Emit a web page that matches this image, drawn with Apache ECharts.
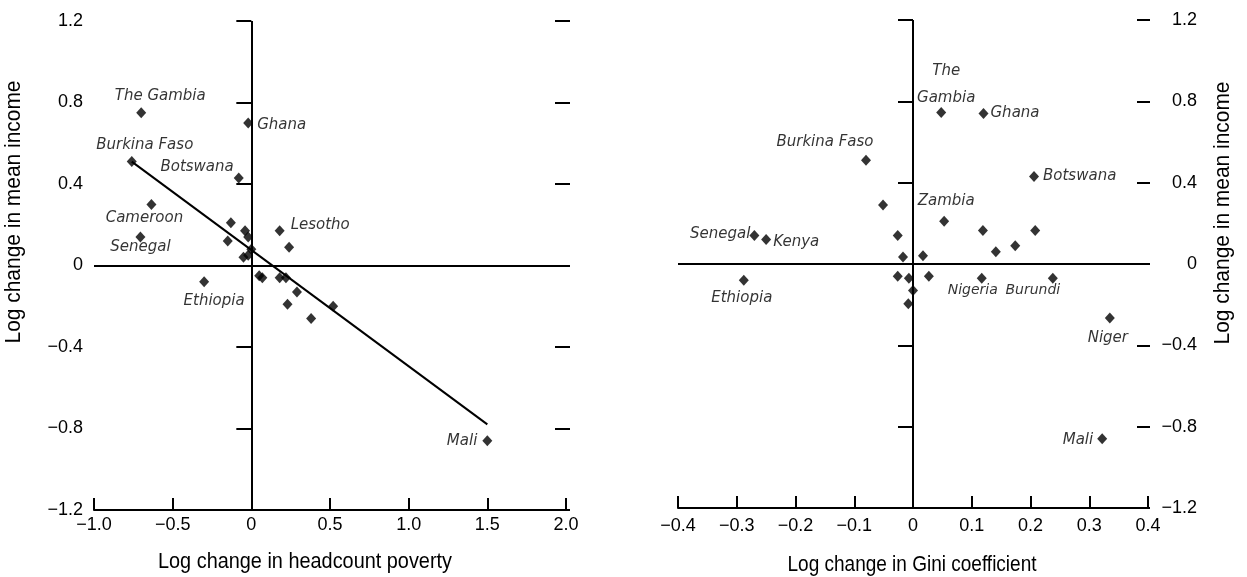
<!DOCTYPE html>
<html><head><meta charset="utf-8">
<script src="https://cdn.jsdelivr.net/npm/echarts@6/dist/echarts.min.js"></script>
<style>html,body{margin:0;padding:0;background:#fff}#c{width:1247px;height:577px}</style>
</head><body><div id="c"></div>
<script>
// ---------- data ----------
const leftNames = ['The Gambia','Burkina Faso','Botswana','Ghana','Cameroon','Senegal','Ethiopia','Lesotho','Mali',
  '','','','','','','','','','','','','','','',''];
const leftX = [-0.70,-0.76,-0.08,-0.02,-0.635,-0.705,-0.30,0.18,1.50,
  0.24,-0.13,-0.15,-0.04,-0.02,-0.05,-0.02,0.00,0.07,0.05,0.18,0.22,0.29,0.23,0.38,0.52];
const leftY = [0.75,0.51,0.43,0.70,0.30,0.14,-0.08,0.17,-0.86,
  0.09,0.21,0.12,0.17,0.14,0.04,0.05,0.08,-0.06,-0.05,-0.06,-0.06,-0.13,-0.19,-0.26,-0.20];
const fitX = [-0.76, 1.50];
const fitY = [0.51, -0.78];

const rightNames = ['The\nGambia','Ghana','Botswana','Burkina Faso','Senegal','Kenya','Ethiopia','Zambia','Nigeria','Burundi','Niger','Mali',
  '','','','','','','','','','','',''];
const rightX = [0.048,0.12,0.206,-0.08,-0.27,-0.25,-0.288,0.053,0.117,0.238,0.335,0.322,
  -0.051,-0.026,-0.017,0.017,-0.026,-0.007,0.027,0.0,-0.008,0.119,0.141,0.174,0.208];
const rightY = [0.745,0.74,0.43,0.51,0.14,0.12,-0.08,0.21,-0.07,-0.07,-0.265,-0.86,
  0.29,0.14,0.035,0.04,-0.06,-0.07,-0.06,-0.13,-0.195,0.165,0.06,0.09,0.165];

const xTicksLeft = ['\u22121.0','\u22120.5','0','0.5','1.0','1.5','2.0'];
const xTicksRight = ['\u22120.4','\u22120.3','\u22120.2','\u22120.1','0','0.1','0.2','0.3','0.4'];
const yTicks = ['\u22121.2','\u22120.8','\u22120.4','0','0.4','0.8','1.2'];

const xTitleLeft = 'Log change in headcount poverty';
const xTitleRight = 'Log change in Gini coefficient';
const yTitle = 'Log change in mean income';

// ---------- label placement (style, not data) ----------
const labelPos = {
  'The Gambia': {offset:[19,-17], align:'center'},
  'Burkina Faso': {offset:[13,-16], align:'center'},
  'Botswana': {offset:[-5,-11], align:'right'},
  'Ghana': {offset:[9,2], align:'left'},
  'Cameroon': {offset:[-7,14], align:'center'},
  'Senegal': {offset:[0,10], align:'center'},
  'Ethiopia': {offset:[10,19], align:'center'},
  'Lesotho': {offset:[11,-6], align:'left'},
  'Mali': {offset:[-10,0], align:'right'}
};
const labelPosR = {
  'The\nGambia': {offset:[5,-28], align:'center'},
  'Ghana': {offset:[7,0], align:'left'},
  'Botswana': {offset:[9,0], align:'left'},
  'Burkina Faso': {offset:[-41,-18], align:'center'},
  'Senegal': {offset:[-4,-1], align:'right'},
  'Kenya': {offset:[7,3], align:'left'},
  'Ethiopia': {offset:[-2,18], align:'center'},
  'Zambia': {offset:[2,-20], align:'center'},
  'Nigeria': {offset:[-9,12], align:'center', size:14},
  'Burundi': {offset:[-20,12], align:'center', size:14},
  'Niger': {offset:[-2,20], align:'center'},
  'Mali': {offset:[-9,1], align:'right'}
};

const TICK_FONT = "Liberation Sans";
const TITLE_FONT = "Liberation Sans";
const LABEL_FONT = "DejaVu Sans";

function pts(xs, ys, names, pos) {
  return xs.map((x, i) => {
    const n = names[i];
    const item = {value: [x, ys[i]], name: n};
    if (n && pos[n]) {
      item.label = {show: true, formatter: n, position: 'inside', offset: pos[n].offset, align: pos[n].align,
        verticalAlign: 'middle', fontStyle: 'italic', fontSize: pos[n].size || 15, fontFamily: LABEL_FONT,
        color: '#000', lineHeight: 27};
    }
    return item;
  });
}

const blk = {color: '#000', width: 2};
function xAxisCfg(grid, min, max, interval, ticks, margin) {
  return {
    type: 'value', gridIndex: grid, min: min, max: max, interval: interval, position: 'bottom',
    axisLine: {show: true, onZero: false, lineStyle: blk},
    axisTick: {show: true, inside: true, length: 12, lineStyle: blk},
    splitLine: {show: false},
    axisLabel: {margin: margin, fontSize: 18, fontFamily: TICK_FONT, color: '#000',
      formatter: v => ticks[Math.round((v - min) / interval)]}
  };
}
function yAxisCfg(grid, pos, offset, tickLen, showLabel) {
  return {
    type: 'value', gridIndex: grid, min: -1.2, max: 1.2, interval: 0.4, position: pos, offset: offset,
    axisLine: {show: false}, splitLine: {show: false},
    axisTick: {show: true, inside: false, length: tickLen, lineStyle: blk},
    axisLabel: {show: showLabel, margin: pos === 'left' ? 22 : 60, align: 'right', fontSize: 18,
      fontFamily: TICK_FONT, color: '#000',
      formatter: v => yTicks[Math.round((v + 1.2) / 0.4)]}
  };
}

const zeroLines = {
  silent: true, symbol: 'none', label: {show: false},
  lineStyle: {color: '#000', width: 2, type: 'solid'},
  data: [{xAxis: 0}, {yAxis: 0}]
};

// condense titles to the reference widths
const mctx = document.createElement('canvas').getContext('2d');
function titleText(text, x, y, rot, targetW) {
  mctx.font = '22px "' + TITLE_FONT + '"';
  const w = mctx.measureText(text).width;
  return {type: 'text', x: x, y: y, rotation: rot, scaleX: targetW / w,
    style: {text: text, fontSize: 22, fontFamily: TITLE_FONT, fill: '#000', align: 'center', verticalAlign: 'middle'}};
}

const chart = echarts.init(document.getElementById('c'), null, {renderer: 'canvas'});
chart.setOption({
  animation: false,
  backgroundColor: '#fff',
  grid: [
    {left: 94, top: 21, width: 472, height: 489},
    {left: 678, top: 20, width: 470, height: 488}
  ],
  xAxis: [
    xAxisCfg(0, -1, 2, 0.5, xTicksLeft, 6),
    xAxisCfg(1, -0.4, 0.4, 0.1, xTicksRight, 9)
  ],
  yAxis: [
    yAxisCfg(0, 'left', -11, 15, true),
    yAxisCfg(0, 'right', -11, 15, false),
    yAxisCfg(1, 'left', -12, 15, false),
    yAxisCfg(1, 'right', -11, 13, true)
  ],
  series: [
    {type: 'scatter', xAxisIndex: 0, yAxisIndex: 0, symbol: 'diamond', symbolSize: [10, 11],
      itemStyle: {color: '#000'}, data: pts(leftX, leftY, leftNames, labelPos), markLine: zeroLines, z: 3},
    {type: 'line', xAxisIndex: 0, yAxisIndex: 0, symbol: 'none', lineStyle: {color: '#000', width: 2},
      data: fitX.map((x, i) => [x, fitY[i]]), z: 2},
    {type: 'scatter', xAxisIndex: 1, yAxisIndex: 2, symbol: 'diamond', symbolSize: [10, 11],
      itemStyle: {color: '#000'}, data: pts(rightX, rightY, rightNames, labelPosR), markLine: zeroLines, z: 3}
  ],
  graphic: [
    titleText(yTitle, 14, 212, Math.PI / 2, 263),
    titleText(yTitle, 1223, 213, Math.PI / 2, 263),
    titleText(xTitleLeft, 305, 562, 0, 294),
    titleText(xTitleRight, 912, 565, 0, 249)
  ]
});
</script></body></html>
